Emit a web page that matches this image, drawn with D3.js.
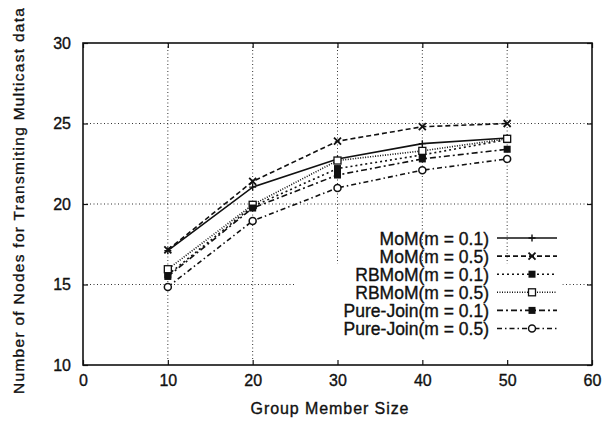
<!DOCTYPE html>
<html><head><meta charset="utf-8">
<script src="https://cdn.jsdelivr.net/npm/d3@7"></script>
<style>
html,body{margin:0;padding:0;background:#fff;}
text{font-family:"Liberation Sans",Arial,Helvetica,sans-serif;fill:#111;stroke:#111;stroke-width:0.35px;}
</style></head>
<body><svg id="c" width="603" height="423"></svg>
<script>
const groupSizes = [10, 20, 30, 40, 50];
const mom01   = [17.1, 21.05, 22.8, 23.75, 24.1];
const mom05   = [17.15, 21.4, 23.9, 24.8, 25.0];
const rbmom01 = [15.6, 19.85, 22.2, 23.05, 24.0];
const rbmom05 = [15.95, 19.95, 22.7, 23.3, 24.05];
const pj01    = [15.5, 19.75, 21.8, 22.8, 23.4];
const pj05    = [14.85, 18.95, 21.0, 22.1, 22.8];
const seriesNames = ["MoM(m = 0.1)", "MoM(m = 0.5)", "RBMoM(m = 0.1)", "RBMoM(m = 0.5)", "Pure-Join(m = 0.1)", "Pure-Join(m = 0.5)"];
const xTicks = [0, 10, 20, 30, 40, 50, 60];
const yTicks = [10, 15, 20, 25, 30];
const xLabel = "Group Member Size";
const yLabel = "Number of Nodes for Transmiting Multicast data";

const seriesValues = [mom01, mom05, rbmom01, rbmom05, pj01, pj05];
const styles = [
  {dash: null, marker: "plus"},
  {dash: "5,3", marker: "cross"},
  {dash: "2,3", marker: "fsquare"},
  {dash: "1,1.5", marker: "osquare"},
  {dash: "6,3,2,3", marker: "fsquare2"},
  {dash: "5,3,1.5,3", marker: "circle"}
];

const W = 603, H = 423;
const m = {l: 83, r: 11, t: 43, b: 58};
const svg = d3.select("#c");
const x = d3.scaleLinear().domain([0, 60]).range([m.l, W - m.r]);
const y = d3.scaleLinear().domain([10, 30]).range([H - m.b, m.t]);
const ink = "#111";

// grid
const grid = svg.append("g").attr("stroke", "#333").attr("stroke-width", 1).attr("stroke-dasharray", "1,2.5");
xTicks.slice(1, -1).forEach(v => {
  grid.append("line").attr("x1", x(v)).attr("x2", x(v)).attr("y1", y(30)).attr("y2", y(10));
});
yTicks.slice(1, -1).forEach(v => {
  grid.append("line").attr("x1", x(0)).attr("x2", x(60)).attr("y1", y(v)).attr("y2", y(v));
});

// legend blank area (covers grid)
svg.append("rect").attr("x", x(25)).attr("y", y(16.3)).attr("width", x(56.5) - x(25)).attr("height", y(9.3) - y(16.3)).attr("fill", "#fff");
svg.append("rect").attr("x", x(0)+1).attr("y", y(10)-6).attr("width", x(60)-x(0)-2).attr("height", 5).attr("fill", "#fff");

// axes
const xAxis = d3.axisBottom(x).tickValues(xTicks).tickSize(-5).tickPadding(10).tickFormat(d3.format("d"));
const yAxis = d3.axisLeft(y).tickValues(yTicks).tickSize(-5).tickPadding(12).tickFormat(d3.format("d"));
const gx = svg.append("g").attr("transform", `translate(0,${y(10)})`).call(xAxis);
const gy = svg.append("g").attr("transform", `translate(${x(0)},0)`).call(yAxis);
[gx, gy].forEach(g => {
  g.select(".domain").remove();
  g.selectAll("line").attr("stroke", ink).attr("stroke-width", 1.2);
  g.selectAll("text").attr("font-size", 16).attr("fill", ink);
});
// mirrored ticks on top/right
svg.append("g").attr("transform", `translate(0,${y(30)})`).call(d3.axisTop(x).tickValues(xTicks).tickSize(-5).tickFormat(""))
  .call(g => { g.select(".domain").remove(); g.selectAll("line").attr("stroke", ink).attr("stroke-width", 1.2); });
svg.append("g").attr("transform", `translate(${x(60)},0)`).call(d3.axisRight(y).tickValues(yTicks).tickSize(-5).tickFormat(""))
  .call(g => { g.select(".domain").remove(); g.selectAll("line").attr("stroke", ink).attr("stroke-width", 1.2); });

// frame
svg.append("rect").attr("x", x(0)).attr("y", y(30)).attr("width", x(60) - x(0)).attr("height", y(10) - y(30))
  .attr("fill", "none").attr("stroke", ink).attr("stroke-width", 1.6);

// axis labels
svg.append("text").attr("x", x(30) - 8).attr("y", 414).attr("text-anchor", "middle").attr("font-size", 16).attr("textLength", 158).text(xLabel);
svg.append("text").attr("transform", `translate(24,201) rotate(-90)`).attr("text-anchor", "middle").attr("font-size", 15.5).attr("textLength", 386).text(yLabel);

function drawMarker(g, kind, cx, cy) {
  const s = 3.5;
  if (kind === "plus") {
    g.append("path").attr("d", `M${cx - s},${cy}H${cx + s}M${cx},${cy - s}V${cy + s}`).attr("stroke", ink).attr("stroke-width", 1.4).attr("fill", "none");
  } else if (kind === "cross") {
    g.append("path").attr("d", `M${cx - s},${cy - s}L${cx + s},${cy + s}M${cx - s},${cy + s}L${cx + s},${cy - s}`).attr("stroke", ink).attr("stroke-width", 1.8).attr("fill", "none");
  } else if (kind === "fsquare" || kind === "fsquare2") {
    g.append("rect").attr("x", cx - s).attr("y", cy - s).attr("width", 2 * s).attr("height", 2 * s).attr("fill", ink);
  } else if (kind === "osquare") {
    g.append("rect").attr("x", cx - s).attr("y", cy - s).attr("width", 2 * s).attr("height", 2 * s).attr("fill", "#fff").attr("stroke", ink).attr("stroke-width", 1.3);
  } else if (kind === "circle") {
    g.append("circle").attr("cx", cx).attr("cy", cy).attr("r", s).attr("fill", "#fff").attr("stroke", ink).attr("stroke-width", 1.5);
  }
}

const line = d3.line().x((d, i) => x(groupSizes[i])).y(d => y(d));
seriesValues.forEach((vals, k) => {
  const g = svg.append("g");
  g.append("path").datum(vals).attr("d", line).attr("fill", "none").attr("stroke", ink).attr("stroke-width", 1.6)
    .attr("stroke-dasharray", styles[k].dash);
  vals.forEach((v, i) => drawMarker(g, styles[k].marker, x(groupSizes[i]), y(v)));
});

// legend
const lx0 = 497, lx1 = 557, lm = 532, ltx = 489, ly0 = 238, ldy = 18.1;
seriesNames.forEach((name, k) => {
  const cy = ly0 + k * ldy;
  const g = svg.append("g");
  g.append("text").attr("x", ltx).attr("y", cy + 6.5).attr("text-anchor", "end").attr("font-size", 17.5).text(name);
  g.append("line").attr("x1", lx0).attr("x2", lx1).attr("y1", cy).attr("y2", cy).attr("stroke", ink).attr("stroke-width", 1.6)
    .attr("stroke-dasharray", styles[k].dash);
  drawMarker(g, styles[k].marker, lm, cy);
});
</script></body></html>
